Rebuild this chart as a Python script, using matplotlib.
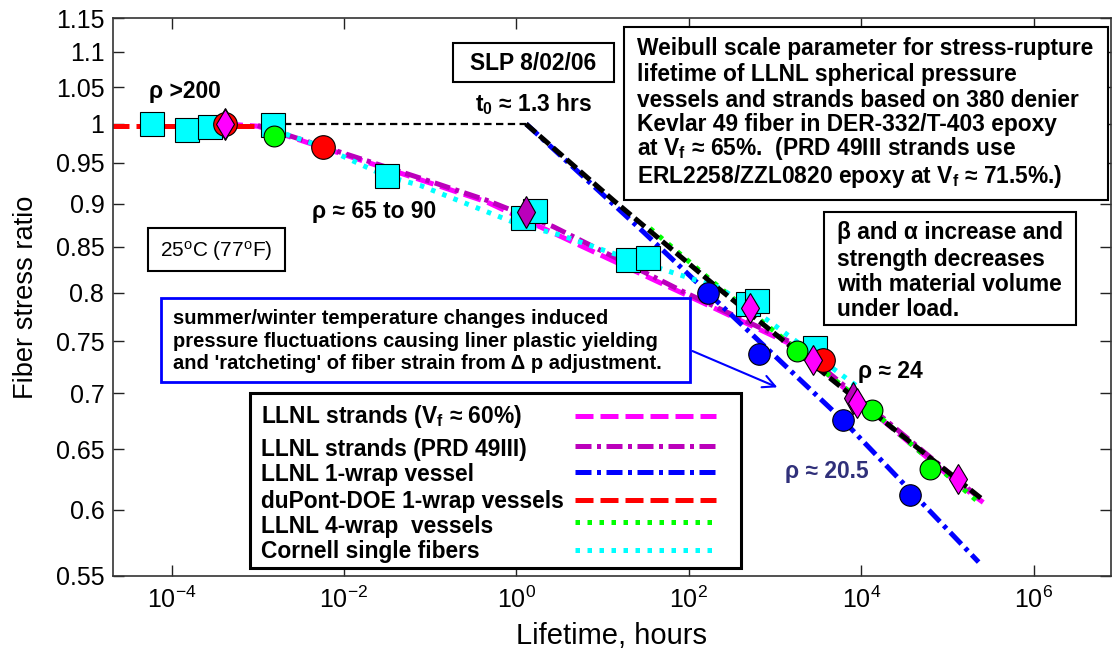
import numpy as np
import matplotlib
matplotlib.use('Agg')
import matplotlib.pyplot as plt
from matplotlib.patches import Rectangle
from matplotlib.ticker import NullLocator

plt.rcParams['font.family'] = ['Liberation Sans', 'DejaVu Sans']
plt.rcParams['mathtext.fontset'] = 'custom'
plt.rcParams['mathtext.rm'] = 'Liberation Sans'
plt.rcParams['mathtext.bf'] = 'Liberation Sans:bold'
plt.rcParams['mathtext.it'] = 'Liberation Sans:italic'

# values: lifetime [hours], fiber stress ratio
cornell_t = [6.0e-5, 1.49e-4, 2.78e-4, 1.51e-3, 0.0312, 1.18, 1.64, 19.8, 33.8, 489, 612, 2.9e3]
cornell_s = [1.0, 0.992, 0.996, 0.998, 0.933, 0.883, 0.891, 0.835, 0.837, 0.788, 0.791, 0.743]
cornell_fit_t = [1.15e-3, 5.65e-3, 0.0312, 0.076, 1.1, 3.2, 11.1, 46, 230, 800, 9.2e3]
cornell_fit_s = [0.997, 0.97, 0.933, 0.922, 0.875, 0.8635, 0.845, 0.826, 0.805, 0.772, 0.706]

wrap4_t = [1.53e-3, 1.78e3, 1.32e4, 6.27e4]
wrap4_s = [0.984, 0.740, 0.685, 0.633]
wrap4_fit_t = [35.4, 210, 9.66e3, 2.5e5]
wrap4_fit_s = [0.871, 0.808, 0.694, 0.604]

wrap1_t = [168, 656, 6.08e3, 3.67e4]
wrap1_s = [0.800, 0.738, 0.676, 0.612]
wrap1_fit_t = [1.3, 29.6, 6.08e3, 2.3e5]
wrap1_fit_s = [1.0, 0.867, 0.676, 0.560]

prd_t = [4.15e-4, 1.29, 8.0e3]
prd_s = [1.0, 0.890, 0.696]
prd_fit_t = [1.0e-3, 0.076, 0.45, 2.67, 86, 1.63e3, 2.6e5]
prd_fit_s = [0.998, 0.931, 0.904, 0.873, 0.801, 0.748, 0.607]

vf60_t = [4.15e-4, 512, 2.77e3, 8.85e3, 1.33e5]
vf60_s = [1.0, 0.7835, 0.7315, 0.691, 0.625]
vf60_fit_t = [4.15e-4, 1.0e-3, 0.076, 0.45, 86, 1.63e3, 1.4e5, 2.6e5]
vf60_fit_s = [1.0, 0.997, 0.929, 0.902, 0.799, 0.746, 0.620, 0.606]

dupont_t = [4.15e-4, 5.65e-3, 3.62e3]
dupont_s = [1.0, 0.9695, 0.7315]
dupont_fit_t = [2.0e-5, 1.2e-3]
dupont_fit_s = [0.997, 0.997]

weibull_flat_t = [2.0e-3, 1.29]
weibull_flat_s = [1.0, 1.0]
weibull_t = [1.29, 13.3, 210, 9.66e3, 2.6e5]
weibull_s = [1.0, 0.904, 0.806, 0.692, 0.608]

xticks = [1e-4, 1e-2, 1e0, 1e2, 1e4, 1e6]
yticks = [0.55, 0.6, 0.65, 0.7, 0.75, 0.8, 0.85, 0.9, 0.95, 1.0, 1.05, 1.1, 1.15]
ytick_labels = ['0.55', '0.6', '0.65', '0.7', '0.75', '0.8', '0.85', '0.9', '0.95', '1', '1.05', '1.1', '1.15']

series_labels = ['LLNL strands (V$_\\mathbf{f}$ \u2248 60%)', 'LLNL strands (PRD 49III)',
                 'LLNL 1-wrap vessel', 'duPont-DOE 1-wrap vessels',
                 'LLNL 4-wrap  vessels', 'Cornell single fibers']

fig = plt.figure(figsize=(11.12, 6.5), dpi=100)
ax = fig.add_axes([0.1013, 0.1143, 0.8978, 0.8575])
ax.set_xscale('log')
ax.set_yscale('log')

lw = 3.6
dash = (3.6, 1.4)
dashdot = (3.2, 1.1, 0.8, 1.1)
dots = (0.9, 1.5)
styles = [('#FF00FF', dash), ('#BB00BB', dashdot), ('#0000FF', dashdot),
          ('#FF0000', dash), ('#00FF00', dots), ('#00FFFF', dots)]
fits = [(vf60_fit_t, vf60_fit_s), (prd_fit_t, prd_fit_s), (wrap1_fit_t, wrap1_fit_s),
        (dupont_fit_t, dupont_fit_s), (wrap4_fit_t, wrap4_fit_s),
        (cornell_fit_t, cornell_fit_s)]
for (tt, ss), (c, d) in zip(fits, styles):
    ax.plot(tt, ss, color=c, lw=lw, dashes=d)
ax.plot(weibull_flat_t, weibull_flat_s, color='black', lw=1.6, dashes=(3.3, 2))
ax.plot(weibull_t, weibull_s, color='black', lw=lw, dashes=(2.6, 1.0))

mk = dict(ls='none', mec='black', mew=0.8, zorder=4)
ax.plot(cornell_t, cornell_s, marker='s', ms=17, mfc='#00FFFF', **mk)
ax.plot(prd_t, prd_s, marker='d', ms=16, mfc='#BB00BB', **mk)
ax.plot(dupont_t, dupont_s, marker='o', ms=17, mfc='#FF0000', **mk)
ax.plot(wrap4_t, wrap4_s, marker='o', ms=15, mfc='#00FF00', **mk)
ax.plot(wrap1_t, wrap1_s, marker='o', ms=15.5, mfc='#0000FF', **mk)
ax.plot(vf60_t, vf60_s, marker='d', ms=15, mfc='#FF00FF', **mk)

ax.set_xlim(2.07e-5, 7.9e6)
ax.set_ylim(0.55, 1.15)
ax.set_xticks(xticks)
ax.xaxis.set_minor_locator(NullLocator())
ax.set_yticks(yticks)
ax.set_yticklabels(ytick_labels)
ax.yaxis.set_minor_locator(NullLocator())
ax.tick_params(which='both', direction='in', top=True, right=True, length=7.7,
               width=1, labelsize=18, pad=6, colors='#222222', labelcolor='black')
ax.tick_params(axis='x', pad=8)
for s in ax.spines.values():
    s.set_linewidth(1.2)
    s.set_color('#333333')
ax.set_xlabel('Lifetime, hours', fontsize=21, labelpad=6)
ax.set_ylabel('Fiber stress ratio', fontsize=19.6, labelpad=12)

tr = ax.transAxes
bold = dict(transform=tr, fontweight='bold', fontsize=16.4, zorder=7, va='baseline')


def box(x0, y0, x1, y1, ec='black', lw_=1.5):
    ax.add_patch(Rectangle((x0, y0), x1 - x0, y1 - y0, transform=tr, fc='white',
                           ec=ec, lw=lw_, zorder=6))


# SLP date box
box(0.3409, 0.8863, 0.5018, 0.9562)
ax.text(0.4213, 0.9065, 'SLP 8/02/06', ha='center', **bold)

# Weibull description box
box(0.5122, 0.674, 0.997, 0.9838)
weibull_lines = ['Weibull scale parameter for stress-rupture',
                 'lifetime of LLNL spherical pressure',
                 'vessels and strands based on 380 denier',
                 'Kevlar 49 fiber in DER-332/T-403 epoxy',
                 'at V$_\\mathbf{f}$ \u2248 65%.  (PRD 49III strands use',
                 'ERL2258/ZZL0820 epoxy at V$_\\mathbf{f}$ \u2248 71.5%.)']
weibull_y = [0.9343, 0.8877, 0.8418, 0.7975, 0.7550, 0.7042]
for txt, yy in zip(weibull_lines, weibull_y):
    ax.text(0.5252, yy, txt, ha='left', **bold)

# beta / alpha box
box(0.7125, 0.4498, 0.965, 0.653)
beta_lines = ['\u03b2 and \u03b1 increase and', 'strength decreases',
              'with material volume', 'under load.']
beta_y = [0.6037, 0.5553, 0.5104, 0.4656]
for txt, yy in zip(beta_lines, beta_y):
    ax.text(0.726, yy, txt, ha='left', **bold)

# temperature box
box(0.0354, 0.5472, 0.1722, 0.6243)
ax.text(0.1038, 0.5727, r'25$^{\mathrm{o}}$C (77$^{\mathrm{o}}$F)', ha='center',
        va='baseline', transform=tr, fontsize=15, zorder=7)

# ratcheting note
box(0.0489, 0.348, 0.5779, 0.4977, ec='#0000FF', lw_=2)
note_lines = ['summer/winter temperature changes induced',
              'pressure fluctuations causing liner plastic yielding',
              "and 'ratcheting' of fiber strain from \u0394 p adjustment."]
note_y = [0.4517, 0.4100, 0.3710]
for txt, yy in zip(note_lines, note_y):
    ax.text(0.0604, yy, txt, ha='left', va='baseline', transform=tr,
            fontweight='bold', fontsize=14.5, zorder=7)
ax.annotate('', xy=(1.14e3, 0.7047), xytext=(103, 0.7415),
            arrowprops=dict(arrowstyle='->', color='#0000FF', lw=1.5,
                            mutation_scale=22), zorder=5)

# rho annotations
ax.text(0.0726, 0.8567, '\u03c1 >200', ha='center', **bold)
ax.text(0.2618, 0.6414, '\u03c1 \u2248 65 to 90', ha='center', **bold)
ax.text(0.421, 0.8333, 't$_\\mathbf{0}$ \u2248 1.3 hrs', ha='center', **bold)
ax.text(0.7786, 0.3543, '\u03c1 \u2248 24', ha='center', **bold)
ax.text(0.7155, 0.1749, '\u03c1 \u2248 20.5', ha='center', va='baseline',
        transform=tr, fontweight='bold', fontsize=16.4, color='#30307A', zorder=7)

# legend: labels left, line samples right
box(0.1375, 0.0138, 0.6294, 0.3283, lw_=2.2)
leg_text_y = [0.2736, 0.2144, 0.1695, 0.1211, 0.0762, 0.0314]
leg_line_y = [0.2865, 0.2327, 0.1860, 0.1358, 0.0964, 0.0461]
for lab, ty, ly, (c, d) in zip(series_labels, leg_text_y, leg_line_y, styles):
    ax.text(0.1486, ty, lab, ha='left', **bold)
    ax.plot([0.4631, 0.6043], [ly, ly], transform=tr, color=c, lw=lw, dashes=d,
            zorder=7)

fig.savefig('out.png', dpi=100)
